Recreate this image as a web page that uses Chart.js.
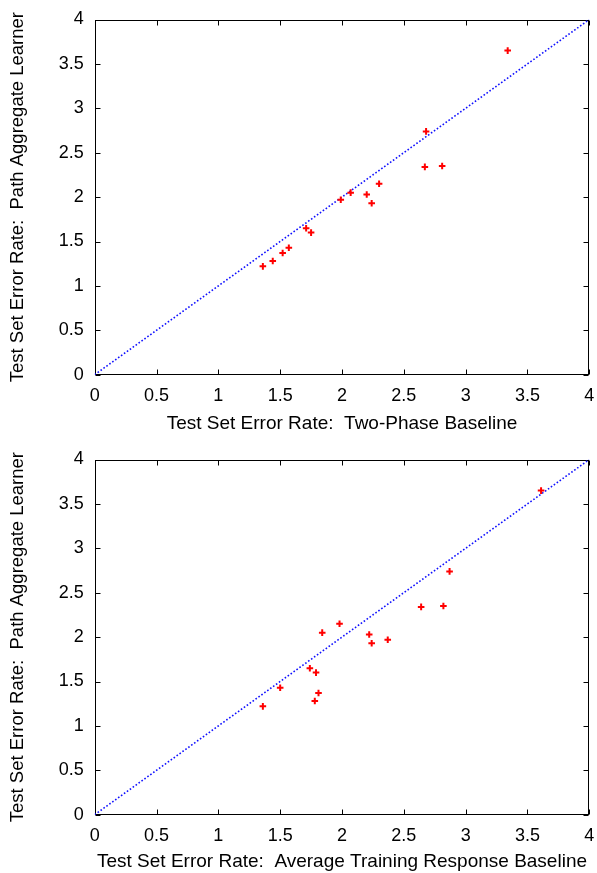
<!DOCTYPE html>
<html>
<head>
<meta charset="utf-8">
<script src="https://cdn.jsdelivr.net/npm/chart.js@4.4.1/dist/chart.umd.min.js"></script>
<style>
  html, body { margin: 0; padding: 0; background: #fff; }
  canvas { display: block; }
</style>
</head>
<body>
<canvas id="chartTop" width="597" height="440"></canvas>
<canvas id="chartBottom" width="597" height="433"></canvas>
<script>
// Path aggregate learner error rate (y in both plots)
const learner = [1.22, 1.28, 1.37, 1.43, 1.65, 1.60, 1.97, 2.05, 2.03, 1.93, 2.15, 2.34, 2.74, 2.35, 3.65];
// baselines (x), same order as learner
const twoPhase = [1.36, 1.44, 1.52, 1.57, 1.71, 1.75, 1.99, 2.07, 2.20, 2.24, 2.30, 2.67, 2.68, 2.81, 3.34];
const avgTraining = [1.36, 1.78, 1.81, 1.50, 1.74, 1.79, 2.37, 1.84, 2.22, 2.24, 1.98, 2.64, 2.87, 2.82, 3.61];
const axisTicks = [0, 0.5, 1, 1.5, 2, 2.5, 3, 3.5, 4];
const diagonal = [0, 4];

const yTitle = "Test Set Error Rate:  Path Aggregate Learner";
const topTitle = "Test Set Error Rate:  Two-Phase Baseline";
const bottomTitle = "Test Set Error Rate:  Average Training Response Baseline";

const FONT = "'Liberation Sans', Arial, Helvetica, sans-serif";

// gnuplot style box with inward ticks on all four sides
const framePlugin = {
  id: "frame",
  beforeDatasetsDraw(chart) {
    const { ctx, chartArea: a, scales } = chart;
    const L = Math.round(a.left) + 0.5, R = Math.round(a.right) - 0.5;
    const T = Math.round(a.top) + 0.5, B = Math.round(a.bottom) - 0.5;
    const len = 5;
    ctx.save();
    ctx.strokeStyle = "#000";
    ctx.lineWidth = 1;
    ctx.beginPath();
    axisTicks.forEach((v) => {
      const px = Math.round(scales.x.getPixelForValue(v)) + 0.5;
      ctx.moveTo(px, B); ctx.lineTo(px, B - len);
      ctx.moveTo(px, T); ctx.lineTo(px, T + len);
      const py = Math.round(scales.y.getPixelForValue(v)) + 0.5;
      ctx.moveTo(L, py); ctx.lineTo(L + len, py);
      ctx.moveTo(R, py); ctx.lineTo(R - len, py);
    });
    ctx.stroke();
    ctx.strokeRect(L, T, R - L, B - T);
    ctx.restore();
  },
};

function makeChart(id, xs, xTitle, axisHeight, titlePad) {
  const points = xs.map((v, i) => ({ x: v, y: learner[i] }));
  return new Chart(document.getElementById(id), {
    type: "scatter",
    data: {
      datasets: [
        {
          data: points,
          pointStyle: "cross",
          pointRadius: 3.3,
          borderColor: "#ff0000",
          backgroundColor: "#ff0000",
          borderWidth: 2,
        },
        {
          type: "line",
          data: diagonal.map((v) => ({ x: v, y: v })),
          borderColor: "#1010ff",
          borderWidth: 1.6,
          borderDash: [1.6, 2],
          pointRadius: 0,
          fill: false,
        },
      ],
    },
    options: {
      responsive: false,
      animation: false,
      events: [],
      layout: { padding: { left: 0, right: 7.7, top: 19.5, bottom: 0 } },
      plugins: { legend: { display: false }, tooltip: { enabled: false } },
      scales: {
        x: {
          type: "linear",
          min: 0,
          max: 4,
          grid: { display: false, drawTicks: false },
          border: { display: false },
          afterBuildTicks: (s) => { s.ticks = axisTicks.map((v) => ({ value: v })); },
          ticks: { color: "#000", padding: 11, maxRotation: 0, font: { family: FONT, size: 18 }, callback: (v) => String(v) },
          title: { display: true, text: xTitle, color: "#000", padding: { top: 0, bottom: titlePad }, font: { family: FONT, size: 19 } },
          afterFit: (s) => { s.height = axisHeight; s.paddingLeft = 0; s.paddingRight = 0; },
        },
        y: {
          type: "linear",
          min: 0,
          max: 4,
          grid: { display: false, drawTicks: false },
          border: { display: false },
          afterBuildTicks: (s) => { s.ticks = axisTicks.map((v) => ({ value: v })); },
          ticks: { color: "#000", padding: 11, font: { family: FONT, size: 18 }, callback: (v) => String(v) },
          title: { display: true, text: yTitle, color: "#000", padding: { top: 6.4, bottom: 0 }, font: { family: FONT, size: 18.5 } },
          afterFit: (s) => { s.width = 94.7; s.paddingTop = 0; s.paddingBottom = 0; },
        },
      },
    },
    plugins: [framePlugin],
  });
}

makeChart("chartTop", twoPhase, topTitle, 65.3, 4.9);
makeChart("chartBottom", avgTraining, bottomTitle, 58.3, 0.2);
</script>
</body>
</html>
